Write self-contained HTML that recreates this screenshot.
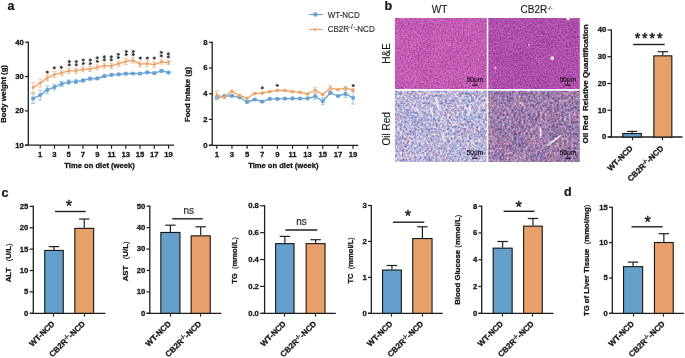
<!DOCTYPE html>
<html><head><meta charset="utf-8"><style>
html,body{margin:0;padding:0;background:#fff;width:685px;height:358px;overflow:hidden;}
svg{display:block;will-change:transform;}
text{font-family:"Liberation Sans",sans-serif;}
</style></head><body>
<svg width="685" height="358" viewBox="0 0 685 358">
<rect width="685" height="358" fill="#fff"/>
<text x="7.50" y="9.80" font-size="12.5" font-weight="bold" text-anchor="start" fill="#141414" stroke="#141414" stroke-width="0.2" >a</text>
<text x="384.60" y="9.60" font-size="12.5" font-weight="bold" text-anchor="start" fill="#141414" stroke="#141414" stroke-width="0.2" >b</text>
<text x="1.60" y="196.50" font-size="12.5" font-weight="bold" text-anchor="start" fill="#141414" stroke="#141414" stroke-width="0.2" >c</text>
<text x="563.90" y="196.40" font-size="12.5" font-weight="bold" text-anchor="start" fill="#141414" stroke="#141414" stroke-width="0.2" >d</text>
<line x1="28.30" y1="41.60" x2="28.30" y2="145.20" stroke="#1e1e1e" stroke-width="1.3" />
<line x1="25.00" y1="42.20" x2="28.30" y2="42.20" stroke="#1e1e1e" stroke-width="1.2" />
<text x="23.70" y="44.65" font-size="7.7" font-weight="bold" text-anchor="end" fill="#141414" stroke="#141414" stroke-width="0.28" >40</text>
<line x1="25.00" y1="76.53" x2="28.30" y2="76.53" stroke="#1e1e1e" stroke-width="1.2" />
<text x="23.70" y="78.98" font-size="7.7" font-weight="bold" text-anchor="end" fill="#141414" stroke="#141414" stroke-width="0.28" >30</text>
<line x1="25.00" y1="110.87" x2="28.30" y2="110.87" stroke="#1e1e1e" stroke-width="1.2" />
<text x="23.70" y="113.32" font-size="7.7" font-weight="bold" text-anchor="end" fill="#141414" stroke="#141414" stroke-width="0.28" >20</text>
<line x1="25.00" y1="145.20" x2="28.30" y2="145.20" stroke="#1e1e1e" stroke-width="1.2" />
<text x="23.70" y="147.65" font-size="7.7" font-weight="bold" text-anchor="end" fill="#141414" stroke="#141414" stroke-width="0.28" >10</text>
<line x1="25.00" y1="145.20" x2="174.00" y2="145.20" stroke="#1e1e1e" stroke-width="1.3" />
<line x1="40.23" y1="145.20" x2="40.23" y2="148.70" stroke="#1e1e1e" stroke-width="1.2" />
<text x="40.23" y="157.30" font-size="7.7" font-weight="bold" text-anchor="middle" fill="#141414" stroke="#141414" stroke-width="0.28" >1</text>
<line x1="54.49" y1="145.20" x2="54.49" y2="148.70" stroke="#1e1e1e" stroke-width="1.2" />
<text x="54.49" y="157.30" font-size="7.7" font-weight="bold" text-anchor="middle" fill="#141414" stroke="#141414" stroke-width="0.28" >3</text>
<line x1="68.75" y1="145.20" x2="68.75" y2="148.70" stroke="#1e1e1e" stroke-width="1.2" />
<text x="68.75" y="157.30" font-size="7.7" font-weight="bold" text-anchor="middle" fill="#141414" stroke="#141414" stroke-width="0.28" >5</text>
<line x1="83.01" y1="145.20" x2="83.01" y2="148.70" stroke="#1e1e1e" stroke-width="1.2" />
<text x="83.01" y="157.30" font-size="7.7" font-weight="bold" text-anchor="middle" fill="#141414" stroke="#141414" stroke-width="0.28" >7</text>
<line x1="97.27" y1="145.20" x2="97.27" y2="148.70" stroke="#1e1e1e" stroke-width="1.2" />
<text x="97.27" y="157.30" font-size="7.7" font-weight="bold" text-anchor="middle" fill="#141414" stroke="#141414" stroke-width="0.28" >9</text>
<line x1="111.53" y1="145.20" x2="111.53" y2="148.70" stroke="#1e1e1e" stroke-width="1.2" />
<text x="111.53" y="157.30" font-size="7.7" font-weight="bold" text-anchor="middle" fill="#141414" stroke="#141414" stroke-width="0.28" >11</text>
<line x1="125.79" y1="145.20" x2="125.79" y2="148.70" stroke="#1e1e1e" stroke-width="1.2" />
<text x="125.79" y="157.30" font-size="7.7" font-weight="bold" text-anchor="middle" fill="#141414" stroke="#141414" stroke-width="0.28" >13</text>
<line x1="140.05" y1="145.20" x2="140.05" y2="148.70" stroke="#1e1e1e" stroke-width="1.2" />
<text x="140.05" y="157.30" font-size="7.7" font-weight="bold" text-anchor="middle" fill="#141414" stroke="#141414" stroke-width="0.28" >15</text>
<line x1="154.31" y1="145.20" x2="154.31" y2="148.70" stroke="#1e1e1e" stroke-width="1.2" />
<text x="154.31" y="157.30" font-size="7.7" font-weight="bold" text-anchor="middle" fill="#141414" stroke="#141414" stroke-width="0.28" >17</text>
<line x1="168.57" y1="145.20" x2="168.57" y2="148.70" stroke="#1e1e1e" stroke-width="1.2" />
<text x="168.57" y="157.30" font-size="7.7" font-weight="bold" text-anchor="middle" fill="#141414" stroke="#141414" stroke-width="0.28" >19</text>
<text x="99.50" y="168.20" font-size="7.6" font-weight="bold" text-anchor="middle" fill="#141414" stroke="#141414" stroke-width="0.28" >Time on diet (week)</text>
<text transform="translate(6.00,93.90) rotate(-90)" font-size="7.7" font-weight="bold" text-anchor="middle" fill="#141414" stroke="#141414" stroke-width="0.28">Body weight (g)</text>
<line x1="33.10" y1="93.60" x2="33.10" y2="103.40" stroke="#8fbbe0" stroke-width="0.8" />
<line x1="30.90" y1="93.60" x2="35.30" y2="93.60" stroke="#8fbbe0" stroke-width="0.8" />
<line x1="30.90" y1="103.40" x2="35.30" y2="103.40" stroke="#8fbbe0" stroke-width="0.8" />
<line x1="40.23" y1="90.25" x2="40.23" y2="99.95" stroke="#8fbbe0" stroke-width="0.8" />
<line x1="38.03" y1="90.25" x2="42.43" y2="90.25" stroke="#8fbbe0" stroke-width="0.8" />
<line x1="38.03" y1="99.95" x2="42.43" y2="99.95" stroke="#8fbbe0" stroke-width="0.8" />
<line x1="47.36" y1="86.05" x2="47.36" y2="93.75" stroke="#8fbbe0" stroke-width="0.8" />
<line x1="45.16" y1="86.05" x2="49.56" y2="86.05" stroke="#8fbbe0" stroke-width="0.8" />
<line x1="45.16" y1="93.75" x2="49.56" y2="93.75" stroke="#8fbbe0" stroke-width="0.8" />
<line x1="54.49" y1="84.30" x2="54.49" y2="89.90" stroke="#8fbbe0" stroke-width="0.8" />
<line x1="52.29" y1="84.30" x2="56.69" y2="84.30" stroke="#8fbbe0" stroke-width="0.8" />
<line x1="52.29" y1="89.90" x2="56.69" y2="89.90" stroke="#8fbbe0" stroke-width="0.8" />
<line x1="61.62" y1="81.40" x2="61.62" y2="86.60" stroke="#8fbbe0" stroke-width="0.8" />
<line x1="59.42" y1="81.40" x2="63.82" y2="81.40" stroke="#8fbbe0" stroke-width="0.8" />
<line x1="59.42" y1="86.60" x2="63.82" y2="86.60" stroke="#8fbbe0" stroke-width="0.8" />
<line x1="68.75" y1="79.90" x2="68.75" y2="84.30" stroke="#8fbbe0" stroke-width="0.8" />
<line x1="66.55" y1="79.90" x2="70.95" y2="79.90" stroke="#8fbbe0" stroke-width="0.8" />
<line x1="66.55" y1="84.30" x2="70.95" y2="84.30" stroke="#8fbbe0" stroke-width="0.8" />
<line x1="75.88" y1="79.80" x2="75.88" y2="83.40" stroke="#8fbbe0" stroke-width="0.8" />
<line x1="73.68" y1="79.80" x2="78.08" y2="79.80" stroke="#8fbbe0" stroke-width="0.8" />
<line x1="73.68" y1="83.40" x2="78.08" y2="83.40" stroke="#8fbbe0" stroke-width="0.8" />
<line x1="83.01" y1="78.90" x2="83.01" y2="82.10" stroke="#8fbbe0" stroke-width="0.8" />
<line x1="80.81" y1="78.90" x2="85.21" y2="78.90" stroke="#8fbbe0" stroke-width="0.8" />
<line x1="80.81" y1="82.10" x2="85.21" y2="82.10" stroke="#8fbbe0" stroke-width="0.8" />
<line x1="90.14" y1="77.30" x2="90.14" y2="80.10" stroke="#8fbbe0" stroke-width="0.8" />
<line x1="87.94" y1="77.30" x2="92.34" y2="77.30" stroke="#8fbbe0" stroke-width="0.8" />
<line x1="87.94" y1="80.10" x2="92.34" y2="80.10" stroke="#8fbbe0" stroke-width="0.8" />
<line x1="97.27" y1="77.30" x2="97.27" y2="79.70" stroke="#8fbbe0" stroke-width="0.8" />
<line x1="95.07" y1="77.30" x2="99.47" y2="77.30" stroke="#8fbbe0" stroke-width="0.8" />
<line x1="95.07" y1="79.70" x2="99.47" y2="79.70" stroke="#8fbbe0" stroke-width="0.8" />
<line x1="104.40" y1="75.00" x2="104.40" y2="77.40" stroke="#8fbbe0" stroke-width="0.8" />
<line x1="102.20" y1="75.00" x2="106.60" y2="75.00" stroke="#8fbbe0" stroke-width="0.8" />
<line x1="102.20" y1="77.40" x2="106.60" y2="77.40" stroke="#8fbbe0" stroke-width="0.8" />
<line x1="111.53" y1="73.90" x2="111.53" y2="75.90" stroke="#8fbbe0" stroke-width="0.8" />
<line x1="109.33" y1="73.90" x2="113.73" y2="73.90" stroke="#8fbbe0" stroke-width="0.8" />
<line x1="109.33" y1="75.90" x2="113.73" y2="75.90" stroke="#8fbbe0" stroke-width="0.8" />
<line x1="118.66" y1="73.40" x2="118.66" y2="75.40" stroke="#8fbbe0" stroke-width="0.8" />
<line x1="116.46" y1="73.40" x2="120.86" y2="73.40" stroke="#8fbbe0" stroke-width="0.8" />
<line x1="116.46" y1="75.40" x2="120.86" y2="75.40" stroke="#8fbbe0" stroke-width="0.8" />
<line x1="125.79" y1="72.70" x2="125.79" y2="74.70" stroke="#8fbbe0" stroke-width="0.8" />
<line x1="123.59" y1="72.70" x2="127.99" y2="72.70" stroke="#8fbbe0" stroke-width="0.8" />
<line x1="123.59" y1="74.70" x2="127.99" y2="74.70" stroke="#8fbbe0" stroke-width="0.8" />
<line x1="132.92" y1="72.50" x2="132.92" y2="74.50" stroke="#8fbbe0" stroke-width="0.8" />
<line x1="130.72" y1="72.50" x2="135.12" y2="72.50" stroke="#8fbbe0" stroke-width="0.8" />
<line x1="130.72" y1="74.50" x2="135.12" y2="74.50" stroke="#8fbbe0" stroke-width="0.8" />
<line x1="140.05" y1="72.60" x2="140.05" y2="74.60" stroke="#8fbbe0" stroke-width="0.8" />
<line x1="137.85" y1="72.60" x2="142.25" y2="72.60" stroke="#8fbbe0" stroke-width="0.8" />
<line x1="137.85" y1="74.60" x2="142.25" y2="74.60" stroke="#8fbbe0" stroke-width="0.8" />
<line x1="147.18" y1="71.40" x2="147.18" y2="73.40" stroke="#8fbbe0" stroke-width="0.8" />
<line x1="144.98" y1="71.40" x2="149.38" y2="71.40" stroke="#8fbbe0" stroke-width="0.8" />
<line x1="144.98" y1="73.40" x2="149.38" y2="73.40" stroke="#8fbbe0" stroke-width="0.8" />
<line x1="154.31" y1="72.10" x2="154.31" y2="74.10" stroke="#8fbbe0" stroke-width="0.8" />
<line x1="152.11" y1="72.10" x2="156.51" y2="72.10" stroke="#8fbbe0" stroke-width="0.8" />
<line x1="152.11" y1="74.10" x2="156.51" y2="74.10" stroke="#8fbbe0" stroke-width="0.8" />
<line x1="161.44" y1="69.70" x2="161.44" y2="72.10" stroke="#8fbbe0" stroke-width="0.8" />
<line x1="159.24" y1="69.70" x2="163.64" y2="69.70" stroke="#8fbbe0" stroke-width="0.8" />
<line x1="159.24" y1="72.10" x2="163.64" y2="72.10" stroke="#8fbbe0" stroke-width="0.8" />
<line x1="168.57" y1="71.60" x2="168.57" y2="73.60" stroke="#8fbbe0" stroke-width="0.8" />
<line x1="166.37" y1="71.60" x2="170.77" y2="71.60" stroke="#8fbbe0" stroke-width="0.8" />
<line x1="166.37" y1="73.60" x2="170.77" y2="73.60" stroke="#8fbbe0" stroke-width="0.8" />
<polyline points="33.10,98.50 40.23,95.10 47.36,89.90 54.49,87.10 61.62,84.00 68.75,82.10 75.88,81.60 83.01,80.50 90.14,78.70 97.27,78.50 104.40,76.20 111.53,74.90 118.66,74.40 125.79,73.70 132.92,73.50 140.05,73.60 147.18,72.40 154.31,73.10 161.44,70.90 168.57,72.60" fill="none" stroke="#68a2d4" stroke-width="1.35" stroke-linejoin="round"/>
<circle cx="33.10" cy="98.50" r="2.1" fill="#68a2d4"/>
<circle cx="40.23" cy="95.10" r="2.1" fill="#68a2d4"/>
<circle cx="47.36" cy="89.90" r="2.1" fill="#68a2d4"/>
<circle cx="54.49" cy="87.10" r="2.1" fill="#68a2d4"/>
<circle cx="61.62" cy="84.00" r="2.1" fill="#68a2d4"/>
<circle cx="68.75" cy="82.10" r="2.1" fill="#68a2d4"/>
<circle cx="75.88" cy="81.60" r="2.1" fill="#68a2d4"/>
<circle cx="83.01" cy="80.50" r="2.1" fill="#68a2d4"/>
<circle cx="90.14" cy="78.70" r="2.1" fill="#68a2d4"/>
<circle cx="97.27" cy="78.50" r="2.1" fill="#68a2d4"/>
<circle cx="104.40" cy="76.20" r="2.1" fill="#68a2d4"/>
<circle cx="111.53" cy="74.90" r="2.1" fill="#68a2d4"/>
<circle cx="118.66" cy="74.40" r="2.1" fill="#68a2d4"/>
<circle cx="125.79" cy="73.70" r="2.1" fill="#68a2d4"/>
<circle cx="132.92" cy="73.50" r="2.1" fill="#68a2d4"/>
<circle cx="140.05" cy="73.60" r="2.1" fill="#68a2d4"/>
<circle cx="147.18" cy="72.40" r="2.1" fill="#68a2d4"/>
<circle cx="154.31" cy="73.10" r="2.1" fill="#68a2d4"/>
<circle cx="161.44" cy="70.90" r="2.1" fill="#68a2d4"/>
<circle cx="168.57" cy="72.60" r="2.1" fill="#68a2d4"/>
<line x1="33.10" y1="82.50" x2="33.10" y2="92.30" stroke="#f0bb8c" stroke-width="0.8" />
<line x1="30.90" y1="82.50" x2="35.30" y2="82.50" stroke="#f0bb8c" stroke-width="0.8" />
<line x1="30.90" y1="92.30" x2="35.30" y2="92.30" stroke="#f0bb8c" stroke-width="0.8" />
<line x1="40.23" y1="79.00" x2="40.23" y2="87.00" stroke="#f0bb8c" stroke-width="0.8" />
<line x1="38.03" y1="79.00" x2="42.43" y2="79.00" stroke="#f0bb8c" stroke-width="0.8" />
<line x1="38.03" y1="87.00" x2="42.43" y2="87.00" stroke="#f0bb8c" stroke-width="0.8" />
<line x1="47.36" y1="74.90" x2="47.36" y2="80.90" stroke="#f0bb8c" stroke-width="0.8" />
<line x1="45.16" y1="74.90" x2="49.56" y2="74.90" stroke="#f0bb8c" stroke-width="0.8" />
<line x1="45.16" y1="80.90" x2="49.56" y2="80.90" stroke="#f0bb8c" stroke-width="0.8" />
<line x1="54.49" y1="71.60" x2="54.49" y2="77.60" stroke="#f0bb8c" stroke-width="0.8" />
<line x1="52.29" y1="71.60" x2="56.69" y2="71.60" stroke="#f0bb8c" stroke-width="0.8" />
<line x1="52.29" y1="77.60" x2="56.69" y2="77.60" stroke="#f0bb8c" stroke-width="0.8" />
<line x1="61.62" y1="70.40" x2="61.62" y2="75.40" stroke="#f0bb8c" stroke-width="0.8" />
<line x1="59.42" y1="70.40" x2="63.82" y2="70.40" stroke="#f0bb8c" stroke-width="0.8" />
<line x1="59.42" y1="75.40" x2="63.82" y2="75.40" stroke="#f0bb8c" stroke-width="0.8" />
<line x1="68.75" y1="68.30" x2="68.75" y2="73.30" stroke="#f0bb8c" stroke-width="0.8" />
<line x1="66.55" y1="68.30" x2="70.95" y2="68.30" stroke="#f0bb8c" stroke-width="0.8" />
<line x1="66.55" y1="73.30" x2="70.95" y2="73.30" stroke="#f0bb8c" stroke-width="0.8" />
<line x1="75.88" y1="68.30" x2="75.88" y2="73.30" stroke="#f0bb8c" stroke-width="0.8" />
<line x1="73.68" y1="68.30" x2="78.08" y2="68.30" stroke="#f0bb8c" stroke-width="0.8" />
<line x1="73.68" y1="73.30" x2="78.08" y2="73.30" stroke="#f0bb8c" stroke-width="0.8" />
<line x1="83.01" y1="66.80" x2="83.01" y2="71.80" stroke="#f0bb8c" stroke-width="0.8" />
<line x1="80.81" y1="66.80" x2="85.21" y2="66.80" stroke="#f0bb8c" stroke-width="0.8" />
<line x1="80.81" y1="71.80" x2="85.21" y2="71.80" stroke="#f0bb8c" stroke-width="0.8" />
<line x1="90.14" y1="66.50" x2="90.14" y2="71.50" stroke="#f0bb8c" stroke-width="0.8" />
<line x1="87.94" y1="66.50" x2="92.34" y2="66.50" stroke="#f0bb8c" stroke-width="0.8" />
<line x1="87.94" y1="71.50" x2="92.34" y2="71.50" stroke="#f0bb8c" stroke-width="0.8" />
<line x1="97.27" y1="64.80" x2="97.27" y2="69.80" stroke="#f0bb8c" stroke-width="0.8" />
<line x1="95.07" y1="64.80" x2="99.47" y2="64.80" stroke="#f0bb8c" stroke-width="0.8" />
<line x1="95.07" y1="69.80" x2="99.47" y2="69.80" stroke="#f0bb8c" stroke-width="0.8" />
<line x1="104.40" y1="63.20" x2="104.40" y2="68.00" stroke="#f0bb8c" stroke-width="0.8" />
<line x1="102.20" y1="63.20" x2="106.60" y2="63.20" stroke="#f0bb8c" stroke-width="0.8" />
<line x1="102.20" y1="68.00" x2="106.60" y2="68.00" stroke="#f0bb8c" stroke-width="0.8" />
<line x1="111.53" y1="63.30" x2="111.53" y2="68.50" stroke="#f0bb8c" stroke-width="0.8" />
<line x1="109.33" y1="63.30" x2="113.73" y2="63.30" stroke="#f0bb8c" stroke-width="0.8" />
<line x1="109.33" y1="68.50" x2="113.73" y2="68.50" stroke="#f0bb8c" stroke-width="0.8" />
<line x1="118.66" y1="61.10" x2="118.66" y2="66.30" stroke="#f0bb8c" stroke-width="0.8" />
<line x1="116.46" y1="61.10" x2="120.86" y2="61.10" stroke="#f0bb8c" stroke-width="0.8" />
<line x1="116.46" y1="66.30" x2="120.86" y2="66.30" stroke="#f0bb8c" stroke-width="0.8" />
<line x1="125.79" y1="58.50" x2="125.79" y2="64.50" stroke="#f0bb8c" stroke-width="0.8" />
<line x1="123.59" y1="58.50" x2="127.99" y2="58.50" stroke="#f0bb8c" stroke-width="0.8" />
<line x1="123.59" y1="64.50" x2="127.99" y2="64.50" stroke="#f0bb8c" stroke-width="0.8" />
<line x1="132.92" y1="57.50" x2="132.92" y2="63.10" stroke="#f0bb8c" stroke-width="0.8" />
<line x1="130.72" y1="57.50" x2="135.12" y2="57.50" stroke="#f0bb8c" stroke-width="0.8" />
<line x1="130.72" y1="63.10" x2="135.12" y2="63.10" stroke="#f0bb8c" stroke-width="0.8" />
<line x1="140.05" y1="61.30" x2="140.05" y2="66.90" stroke="#f0bb8c" stroke-width="0.8" />
<line x1="137.85" y1="61.30" x2="142.25" y2="61.30" stroke="#f0bb8c" stroke-width="0.8" />
<line x1="137.85" y1="66.90" x2="142.25" y2="66.90" stroke="#f0bb8c" stroke-width="0.8" />
<line x1="147.18" y1="60.90" x2="147.18" y2="66.30" stroke="#f0bb8c" stroke-width="0.8" />
<line x1="144.98" y1="60.90" x2="149.38" y2="60.90" stroke="#f0bb8c" stroke-width="0.8" />
<line x1="144.98" y1="66.30" x2="149.38" y2="66.30" stroke="#f0bb8c" stroke-width="0.8" />
<line x1="154.31" y1="61.80" x2="154.31" y2="67.40" stroke="#f0bb8c" stroke-width="0.8" />
<line x1="152.11" y1="61.80" x2="156.51" y2="61.80" stroke="#f0bb8c" stroke-width="0.8" />
<line x1="152.11" y1="67.40" x2="156.51" y2="67.40" stroke="#f0bb8c" stroke-width="0.8" />
<line x1="161.44" y1="59.40" x2="161.44" y2="64.20" stroke="#f0bb8c" stroke-width="0.8" />
<line x1="159.24" y1="59.40" x2="163.64" y2="59.40" stroke="#f0bb8c" stroke-width="0.8" />
<line x1="159.24" y1="64.20" x2="163.64" y2="64.20" stroke="#f0bb8c" stroke-width="0.8" />
<line x1="168.57" y1="60.50" x2="168.57" y2="64.70" stroke="#f0bb8c" stroke-width="0.8" />
<line x1="166.37" y1="60.50" x2="170.77" y2="60.50" stroke="#f0bb8c" stroke-width="0.8" />
<line x1="166.37" y1="64.70" x2="170.77" y2="64.70" stroke="#f0bb8c" stroke-width="0.8" />
<polyline points="33.10,87.40 40.23,83.00 47.36,77.90 54.49,74.60 61.62,72.90 68.75,70.80 75.88,70.80 83.01,69.30 90.14,69.00 97.27,67.30 104.40,65.60 111.53,65.90 118.66,63.70 125.79,61.50 132.92,60.30 140.05,64.10 147.18,63.60 154.31,64.60 161.44,61.80 168.57,62.60" fill="none" stroke="#eba265" stroke-width="1.35" stroke-linejoin="round"/>
<path d="M33.10 85.30 L34.80 87.40 L33.10 89.50 L31.40 87.40Z" fill="#eba265"/>
<path d="M40.23 80.90 L41.93 83.00 L40.23 85.10 L38.53 83.00Z" fill="#eba265"/>
<path d="M47.36 75.80 L49.06 77.90 L47.36 80.00 L45.66 77.90Z" fill="#eba265"/>
<path d="M54.49 72.50 L56.19 74.60 L54.49 76.70 L52.79 74.60Z" fill="#eba265"/>
<path d="M61.62 70.80 L63.32 72.90 L61.62 75.00 L59.92 72.90Z" fill="#eba265"/>
<path d="M68.75 68.70 L70.45 70.80 L68.75 72.90 L67.05 70.80Z" fill="#eba265"/>
<path d="M75.88 68.70 L77.58 70.80 L75.88 72.90 L74.18 70.80Z" fill="#eba265"/>
<path d="M83.01 67.20 L84.71 69.30 L83.01 71.40 L81.31 69.30Z" fill="#eba265"/>
<path d="M90.14 66.90 L91.84 69.00 L90.14 71.10 L88.44 69.00Z" fill="#eba265"/>
<path d="M97.27 65.20 L98.97 67.30 L97.27 69.40 L95.57 67.30Z" fill="#eba265"/>
<path d="M104.40 63.50 L106.10 65.60 L104.40 67.70 L102.70 65.60Z" fill="#eba265"/>
<path d="M111.53 63.80 L113.23 65.90 L111.53 68.00 L109.83 65.90Z" fill="#eba265"/>
<path d="M118.66 61.60 L120.36 63.70 L118.66 65.80 L116.96 63.70Z" fill="#eba265"/>
<path d="M125.79 59.40 L127.49 61.50 L125.79 63.60 L124.09 61.50Z" fill="#eba265"/>
<path d="M132.92 58.20 L134.62 60.30 L132.92 62.40 L131.22 60.30Z" fill="#eba265"/>
<path d="M140.05 62.00 L141.75 64.10 L140.05 66.20 L138.35 64.10Z" fill="#eba265"/>
<path d="M147.18 61.50 L148.88 63.60 L147.18 65.70 L145.48 63.60Z" fill="#eba265"/>
<path d="M154.31 62.50 L156.01 64.60 L154.31 66.70 L152.61 64.60Z" fill="#eba265"/>
<path d="M161.44 59.70 L163.14 61.80 L161.44 63.90 L159.74 61.80Z" fill="#eba265"/>
<path d="M168.57 60.50 L170.27 62.60 L168.57 64.70 L166.87 62.60Z" fill="#eba265"/>
<text transform="translate(47.36,72.20) rotate(90)" y="4.24" font-size="8.2" text-anchor="middle" fill="#141414" stroke="#141414" stroke-width="0.2">*</text>
<text transform="translate(54.49,67.90) rotate(90)" y="4.24" font-size="8.2" text-anchor="middle" fill="#141414" stroke="#141414" stroke-width="0.2">*</text>
<text transform="translate(61.62,67.40) rotate(90)" y="4.24" font-size="8.2" text-anchor="middle" fill="#141414" stroke="#141414" stroke-width="0.2">*</text>
<text transform="translate(68.75,61.60) rotate(90)" y="4.24" font-size="8.2" text-anchor="middle" fill="#141414" stroke="#141414" stroke-width="0.2">*</text>
<text transform="translate(68.75,64.80) rotate(90)" y="4.24" font-size="8.2" text-anchor="middle" fill="#141414" stroke="#141414" stroke-width="0.2">*</text>
<text transform="translate(75.88,61.60) rotate(90)" y="4.24" font-size="8.2" text-anchor="middle" fill="#141414" stroke="#141414" stroke-width="0.2">*</text>
<text transform="translate(75.88,64.80) rotate(90)" y="4.24" font-size="8.2" text-anchor="middle" fill="#141414" stroke="#141414" stroke-width="0.2">*</text>
<text transform="translate(83.01,60.20) rotate(90)" y="4.24" font-size="8.2" text-anchor="middle" fill="#141414" stroke="#141414" stroke-width="0.2">*</text>
<text transform="translate(83.01,63.60) rotate(90)" y="4.24" font-size="8.2" text-anchor="middle" fill="#141414" stroke="#141414" stroke-width="0.2">*</text>
<text transform="translate(90.14,60.20) rotate(90)" y="4.24" font-size="8.2" text-anchor="middle" fill="#141414" stroke="#141414" stroke-width="0.2">*</text>
<text transform="translate(90.14,63.60) rotate(90)" y="4.24" font-size="8.2" text-anchor="middle" fill="#141414" stroke="#141414" stroke-width="0.2">*</text>
<text transform="translate(97.27,57.90) rotate(90)" y="4.24" font-size="8.2" text-anchor="middle" fill="#141414" stroke="#141414" stroke-width="0.2">*</text>
<text transform="translate(97.27,61.40) rotate(90)" y="4.24" font-size="8.2" text-anchor="middle" fill="#141414" stroke="#141414" stroke-width="0.2">*</text>
<text transform="translate(104.40,56.80) rotate(90)" y="4.24" font-size="8.2" text-anchor="middle" fill="#141414" stroke="#141414" stroke-width="0.2">*</text>
<text transform="translate(104.40,59.80) rotate(90)" y="4.24" font-size="8.2" text-anchor="middle" fill="#141414" stroke="#141414" stroke-width="0.2">*</text>
<text transform="translate(111.53,56.80) rotate(90)" y="4.24" font-size="8.2" text-anchor="middle" fill="#141414" stroke="#141414" stroke-width="0.2">*</text>
<text transform="translate(111.53,59.80) rotate(90)" y="4.24" font-size="8.2" text-anchor="middle" fill="#141414" stroke="#141414" stroke-width="0.2">*</text>
<text transform="translate(118.66,54.40) rotate(90)" y="4.24" font-size="8.2" text-anchor="middle" fill="#141414" stroke="#141414" stroke-width="0.2">*</text>
<text transform="translate(118.66,57.60) rotate(90)" y="4.24" font-size="8.2" text-anchor="middle" fill="#141414" stroke="#141414" stroke-width="0.2">*</text>
<text transform="translate(125.79,51.50) rotate(90)" y="4.24" font-size="8.2" text-anchor="middle" fill="#141414" stroke="#141414" stroke-width="0.2">*</text>
<text transform="translate(125.79,54.70) rotate(90)" y="4.24" font-size="8.2" text-anchor="middle" fill="#141414" stroke="#141414" stroke-width="0.2">*</text>
<text transform="translate(132.92,51.50) rotate(90)" y="4.24" font-size="8.2" text-anchor="middle" fill="#141414" stroke="#141414" stroke-width="0.2">*</text>
<text transform="translate(132.92,54.70) rotate(90)" y="4.24" font-size="8.2" text-anchor="middle" fill="#141414" stroke="#141414" stroke-width="0.2">*</text>
<text transform="translate(140.05,58.20) rotate(90)" y="4.24" font-size="8.2" text-anchor="middle" fill="#141414" stroke="#141414" stroke-width="0.2">*</text>
<text transform="translate(147.18,58.20) rotate(90)" y="4.24" font-size="8.2" text-anchor="middle" fill="#141414" stroke="#141414" stroke-width="0.2">*</text>
<text transform="translate(154.31,58.20) rotate(90)" y="4.24" font-size="8.2" text-anchor="middle" fill="#141414" stroke="#141414" stroke-width="0.2">*</text>
<text transform="translate(161.44,52.30) rotate(90)" y="4.24" font-size="8.2" text-anchor="middle" fill="#141414" stroke="#141414" stroke-width="0.2">*</text>
<text transform="translate(161.44,55.80) rotate(90)" y="4.24" font-size="8.2" text-anchor="middle" fill="#141414" stroke="#141414" stroke-width="0.2">*</text>
<text transform="translate(168.57,53.80) rotate(90)" y="4.24" font-size="8.2" text-anchor="middle" fill="#141414" stroke="#141414" stroke-width="0.2">*</text>
<text transform="translate(168.57,56.90) rotate(90)" y="4.24" font-size="8.2" text-anchor="middle" fill="#141414" stroke="#141414" stroke-width="0.2">*</text>
<line x1="212.20" y1="41.70" x2="212.20" y2="145.20" stroke="#1e1e1e" stroke-width="1.3" />
<line x1="208.90" y1="42.30" x2="212.20" y2="42.30" stroke="#1e1e1e" stroke-width="1.2" />
<text x="207.60" y="44.75" font-size="7.7" font-weight="bold" text-anchor="end" fill="#141414" stroke="#141414" stroke-width="0.28" >8</text>
<line x1="208.90" y1="68.02" x2="212.20" y2="68.02" stroke="#1e1e1e" stroke-width="1.2" />
<text x="207.60" y="70.47" font-size="7.7" font-weight="bold" text-anchor="end" fill="#141414" stroke="#141414" stroke-width="0.28" >6</text>
<line x1="208.90" y1="93.75" x2="212.20" y2="93.75" stroke="#1e1e1e" stroke-width="1.2" />
<text x="207.60" y="96.20" font-size="7.7" font-weight="bold" text-anchor="end" fill="#141414" stroke="#141414" stroke-width="0.28" >4</text>
<line x1="208.90" y1="119.47" x2="212.20" y2="119.47" stroke="#1e1e1e" stroke-width="1.2" />
<text x="207.60" y="121.92" font-size="7.7" font-weight="bold" text-anchor="end" fill="#141414" stroke="#141414" stroke-width="0.28" >2</text>
<line x1="208.90" y1="145.20" x2="212.20" y2="145.20" stroke="#1e1e1e" stroke-width="1.2" />
<text x="207.60" y="147.65" font-size="7.7" font-weight="bold" text-anchor="end" fill="#141414" stroke="#141414" stroke-width="0.28" >0</text>
<line x1="208.90" y1="145.30" x2="358.30" y2="145.30" stroke="#1e1e1e" stroke-width="1.3" />
<line x1="216.80" y1="145.30" x2="216.80" y2="148.80" stroke="#1e1e1e" stroke-width="1.2" />
<text x="216.80" y="157.40" font-size="7.7" font-weight="bold" text-anchor="middle" fill="#141414" stroke="#141414" stroke-width="0.28" >1</text>
<line x1="231.94" y1="145.30" x2="231.94" y2="148.80" stroke="#1e1e1e" stroke-width="1.2" />
<text x="231.94" y="157.40" font-size="7.7" font-weight="bold" text-anchor="middle" fill="#141414" stroke="#141414" stroke-width="0.28" >3</text>
<line x1="247.08" y1="145.30" x2="247.08" y2="148.80" stroke="#1e1e1e" stroke-width="1.2" />
<text x="247.08" y="157.40" font-size="7.7" font-weight="bold" text-anchor="middle" fill="#141414" stroke="#141414" stroke-width="0.28" >5</text>
<line x1="262.22" y1="145.30" x2="262.22" y2="148.80" stroke="#1e1e1e" stroke-width="1.2" />
<text x="262.22" y="157.40" font-size="7.7" font-weight="bold" text-anchor="middle" fill="#141414" stroke="#141414" stroke-width="0.28" >7</text>
<line x1="277.36" y1="145.30" x2="277.36" y2="148.80" stroke="#1e1e1e" stroke-width="1.2" />
<text x="277.36" y="157.40" font-size="7.7" font-weight="bold" text-anchor="middle" fill="#141414" stroke="#141414" stroke-width="0.28" >9</text>
<line x1="292.50" y1="145.30" x2="292.50" y2="148.80" stroke="#1e1e1e" stroke-width="1.2" />
<text x="292.50" y="157.40" font-size="7.7" font-weight="bold" text-anchor="middle" fill="#141414" stroke="#141414" stroke-width="0.28" >11</text>
<line x1="307.64" y1="145.30" x2="307.64" y2="148.80" stroke="#1e1e1e" stroke-width="1.2" />
<text x="307.64" y="157.40" font-size="7.7" font-weight="bold" text-anchor="middle" fill="#141414" stroke="#141414" stroke-width="0.28" >13</text>
<line x1="322.78" y1="145.30" x2="322.78" y2="148.80" stroke="#1e1e1e" stroke-width="1.2" />
<text x="322.78" y="157.40" font-size="7.7" font-weight="bold" text-anchor="middle" fill="#141414" stroke="#141414" stroke-width="0.28" >15</text>
<line x1="337.92" y1="145.30" x2="337.92" y2="148.80" stroke="#1e1e1e" stroke-width="1.2" />
<text x="337.92" y="157.40" font-size="7.7" font-weight="bold" text-anchor="middle" fill="#141414" stroke="#141414" stroke-width="0.28" >17</text>
<line x1="353.06" y1="145.30" x2="353.06" y2="148.80" stroke="#1e1e1e" stroke-width="1.2" />
<text x="353.06" y="157.40" font-size="7.7" font-weight="bold" text-anchor="middle" fill="#141414" stroke="#141414" stroke-width="0.28" >19</text>
<text x="283.30" y="168.40" font-size="7.6" font-weight="bold" text-anchor="middle" fill="#141414" stroke="#141414" stroke-width="0.28" >Time on diet (week)</text>
<text transform="translate(190.40,94.50) rotate(-90)" font-size="7.7" font-weight="bold" text-anchor="middle" fill="#141414" stroke="#141414" stroke-width="0.28">Food Intake (g)</text>
<line x1="216.80" y1="96.20" x2="216.80" y2="99.40" stroke="#8fbbe0" stroke-width="0.8" />
<line x1="214.60" y1="96.20" x2="219.00" y2="96.20" stroke="#8fbbe0" stroke-width="0.8" />
<line x1="214.60" y1="99.40" x2="219.00" y2="99.40" stroke="#8fbbe0" stroke-width="0.8" />
<line x1="224.37" y1="95.30" x2="224.37" y2="96.90" stroke="#8fbbe0" stroke-width="0.8" />
<line x1="222.17" y1="95.30" x2="226.57" y2="95.30" stroke="#8fbbe0" stroke-width="0.8" />
<line x1="222.17" y1="96.90" x2="226.57" y2="96.90" stroke="#8fbbe0" stroke-width="0.8" />
<line x1="231.94" y1="95.10" x2="231.94" y2="96.70" stroke="#8fbbe0" stroke-width="0.8" />
<line x1="229.74" y1="95.10" x2="234.14" y2="95.10" stroke="#8fbbe0" stroke-width="0.8" />
<line x1="229.74" y1="96.70" x2="234.14" y2="96.70" stroke="#8fbbe0" stroke-width="0.8" />
<line x1="239.51" y1="96.40" x2="239.51" y2="98.00" stroke="#8fbbe0" stroke-width="0.8" />
<line x1="237.31" y1="96.40" x2="241.71" y2="96.40" stroke="#8fbbe0" stroke-width="0.8" />
<line x1="237.31" y1="98.00" x2="241.71" y2="98.00" stroke="#8fbbe0" stroke-width="0.8" />
<line x1="247.08" y1="101.20" x2="247.08" y2="102.80" stroke="#8fbbe0" stroke-width="0.8" />
<line x1="244.88" y1="101.20" x2="249.28" y2="101.20" stroke="#8fbbe0" stroke-width="0.8" />
<line x1="244.88" y1="102.80" x2="249.28" y2="102.80" stroke="#8fbbe0" stroke-width="0.8" />
<line x1="254.65" y1="98.70" x2="254.65" y2="100.30" stroke="#8fbbe0" stroke-width="0.8" />
<line x1="252.45" y1="98.70" x2="256.85" y2="98.70" stroke="#8fbbe0" stroke-width="0.8" />
<line x1="252.45" y1="100.30" x2="256.85" y2="100.30" stroke="#8fbbe0" stroke-width="0.8" />
<line x1="262.22" y1="100.80" x2="262.22" y2="102.40" stroke="#8fbbe0" stroke-width="0.8" />
<line x1="260.02" y1="100.80" x2="264.42" y2="100.80" stroke="#8fbbe0" stroke-width="0.8" />
<line x1="260.02" y1="102.40" x2="264.42" y2="102.40" stroke="#8fbbe0" stroke-width="0.8" />
<line x1="269.79" y1="98.10" x2="269.79" y2="99.70" stroke="#8fbbe0" stroke-width="0.8" />
<line x1="267.59" y1="98.10" x2="271.99" y2="98.10" stroke="#8fbbe0" stroke-width="0.8" />
<line x1="267.59" y1="99.70" x2="271.99" y2="99.70" stroke="#8fbbe0" stroke-width="0.8" />
<line x1="277.36" y1="98.10" x2="277.36" y2="99.70" stroke="#8fbbe0" stroke-width="0.8" />
<line x1="275.16" y1="98.10" x2="279.56" y2="98.10" stroke="#8fbbe0" stroke-width="0.8" />
<line x1="275.16" y1="99.70" x2="279.56" y2="99.70" stroke="#8fbbe0" stroke-width="0.8" />
<line x1="284.93" y1="97.80" x2="284.93" y2="99.40" stroke="#8fbbe0" stroke-width="0.8" />
<line x1="282.73" y1="97.80" x2="287.13" y2="97.80" stroke="#8fbbe0" stroke-width="0.8" />
<line x1="282.73" y1="99.40" x2="287.13" y2="99.40" stroke="#8fbbe0" stroke-width="0.8" />
<line x1="292.50" y1="97.60" x2="292.50" y2="99.20" stroke="#8fbbe0" stroke-width="0.8" />
<line x1="290.30" y1="97.60" x2="294.70" y2="97.60" stroke="#8fbbe0" stroke-width="0.8" />
<line x1="290.30" y1="99.20" x2="294.70" y2="99.20" stroke="#8fbbe0" stroke-width="0.8" />
<line x1="300.07" y1="97.80" x2="300.07" y2="99.40" stroke="#8fbbe0" stroke-width="0.8" />
<line x1="297.87" y1="97.80" x2="302.27" y2="97.80" stroke="#8fbbe0" stroke-width="0.8" />
<line x1="297.87" y1="99.40" x2="302.27" y2="99.40" stroke="#8fbbe0" stroke-width="0.8" />
<line x1="307.64" y1="97.60" x2="307.64" y2="99.20" stroke="#8fbbe0" stroke-width="0.8" />
<line x1="305.44" y1="97.60" x2="309.84" y2="97.60" stroke="#8fbbe0" stroke-width="0.8" />
<line x1="305.44" y1="99.20" x2="309.84" y2="99.20" stroke="#8fbbe0" stroke-width="0.8" />
<line x1="315.21" y1="93.30" x2="315.21" y2="99.30" stroke="#8fbbe0" stroke-width="0.8" />
<line x1="313.01" y1="93.30" x2="317.41" y2="93.30" stroke="#8fbbe0" stroke-width="0.8" />
<line x1="313.01" y1="99.30" x2="317.41" y2="99.30" stroke="#8fbbe0" stroke-width="0.8" />
<line x1="322.78" y1="97.90" x2="322.78" y2="104.70" stroke="#8fbbe0" stroke-width="0.8" />
<line x1="320.58" y1="97.90" x2="324.98" y2="97.90" stroke="#8fbbe0" stroke-width="0.8" />
<line x1="320.58" y1="104.70" x2="324.98" y2="104.70" stroke="#8fbbe0" stroke-width="0.8" />
<line x1="330.35" y1="91.80" x2="330.35" y2="93.80" stroke="#8fbbe0" stroke-width="0.8" />
<line x1="328.15" y1="91.80" x2="332.55" y2="91.80" stroke="#8fbbe0" stroke-width="0.8" />
<line x1="328.15" y1="93.80" x2="332.55" y2="93.80" stroke="#8fbbe0" stroke-width="0.8" />
<line x1="337.92" y1="95.20" x2="337.92" y2="96.80" stroke="#8fbbe0" stroke-width="0.8" />
<line x1="335.72" y1="95.20" x2="340.12" y2="95.20" stroke="#8fbbe0" stroke-width="0.8" />
<line x1="335.72" y1="96.80" x2="340.12" y2="96.80" stroke="#8fbbe0" stroke-width="0.8" />
<line x1="345.49" y1="90.40" x2="345.49" y2="97.40" stroke="#8fbbe0" stroke-width="0.8" />
<line x1="343.29" y1="90.40" x2="347.69" y2="90.40" stroke="#8fbbe0" stroke-width="0.8" />
<line x1="343.29" y1="97.40" x2="347.69" y2="97.40" stroke="#8fbbe0" stroke-width="0.8" />
<line x1="353.06" y1="91.60" x2="353.06" y2="104.00" stroke="#8fbbe0" stroke-width="0.8" />
<line x1="350.86" y1="91.60" x2="355.26" y2="91.60" stroke="#8fbbe0" stroke-width="0.8" />
<line x1="350.86" y1="104.00" x2="355.26" y2="104.00" stroke="#8fbbe0" stroke-width="0.8" />
<polyline points="216.80,97.80 224.37,96.10 231.94,95.90 239.51,97.20 247.08,102.00 254.65,99.50 262.22,101.60 269.79,98.90 277.36,98.90 284.93,98.60 292.50,98.40 300.07,98.60 307.64,98.40 315.21,96.30 322.78,101.30 330.35,92.80 337.92,96.00 345.49,93.90 353.06,97.80" fill="none" stroke="#68a2d4" stroke-width="1.35" stroke-linejoin="round"/>
<circle cx="216.80" cy="97.80" r="2.1" fill="#68a2d4"/>
<circle cx="224.37" cy="96.10" r="2.1" fill="#68a2d4"/>
<circle cx="231.94" cy="95.90" r="2.1" fill="#68a2d4"/>
<circle cx="239.51" cy="97.20" r="2.1" fill="#68a2d4"/>
<circle cx="247.08" cy="102.00" r="2.1" fill="#68a2d4"/>
<circle cx="254.65" cy="99.50" r="2.1" fill="#68a2d4"/>
<circle cx="262.22" cy="101.60" r="2.1" fill="#68a2d4"/>
<circle cx="269.79" cy="98.90" r="2.1" fill="#68a2d4"/>
<circle cx="277.36" cy="98.90" r="2.1" fill="#68a2d4"/>
<circle cx="284.93" cy="98.60" r="2.1" fill="#68a2d4"/>
<circle cx="292.50" cy="98.40" r="2.1" fill="#68a2d4"/>
<circle cx="300.07" cy="98.60" r="2.1" fill="#68a2d4"/>
<circle cx="307.64" cy="98.40" r="2.1" fill="#68a2d4"/>
<circle cx="315.21" cy="96.30" r="2.1" fill="#68a2d4"/>
<circle cx="322.78" cy="101.30" r="2.1" fill="#68a2d4"/>
<circle cx="330.35" cy="92.80" r="2.1" fill="#68a2d4"/>
<circle cx="337.92" cy="96.00" r="2.1" fill="#68a2d4"/>
<circle cx="345.49" cy="93.90" r="2.1" fill="#68a2d4"/>
<circle cx="353.06" cy="97.80" r="2.1" fill="#68a2d4"/>
<line x1="216.80" y1="90.70" x2="216.80" y2="99.10" stroke="#f0bb8c" stroke-width="0.8" />
<line x1="214.60" y1="90.70" x2="219.00" y2="90.70" stroke="#f0bb8c" stroke-width="0.8" />
<line x1="214.60" y1="99.10" x2="219.00" y2="99.10" stroke="#f0bb8c" stroke-width="0.8" />
<line x1="224.37" y1="96.40" x2="224.37" y2="98.40" stroke="#f0bb8c" stroke-width="0.8" />
<line x1="222.17" y1="96.40" x2="226.57" y2="96.40" stroke="#f0bb8c" stroke-width="0.8" />
<line x1="222.17" y1="98.40" x2="226.57" y2="98.40" stroke="#f0bb8c" stroke-width="0.8" />
<line x1="231.94" y1="90.50" x2="231.94" y2="92.10" stroke="#f0bb8c" stroke-width="0.8" />
<line x1="229.74" y1="90.50" x2="234.14" y2="90.50" stroke="#f0bb8c" stroke-width="0.8" />
<line x1="229.74" y1="92.10" x2="234.14" y2="92.10" stroke="#f0bb8c" stroke-width="0.8" />
<line x1="239.51" y1="94.70" x2="239.51" y2="96.30" stroke="#f0bb8c" stroke-width="0.8" />
<line x1="237.31" y1="94.70" x2="241.71" y2="94.70" stroke="#f0bb8c" stroke-width="0.8" />
<line x1="237.31" y1="96.30" x2="241.71" y2="96.30" stroke="#f0bb8c" stroke-width="0.8" />
<line x1="247.08" y1="97.50" x2="247.08" y2="99.10" stroke="#f0bb8c" stroke-width="0.8" />
<line x1="244.88" y1="97.50" x2="249.28" y2="97.50" stroke="#f0bb8c" stroke-width="0.8" />
<line x1="244.88" y1="99.10" x2="249.28" y2="99.10" stroke="#f0bb8c" stroke-width="0.8" />
<line x1="254.65" y1="92.70" x2="254.65" y2="94.30" stroke="#f0bb8c" stroke-width="0.8" />
<line x1="252.45" y1="92.70" x2="256.85" y2="92.70" stroke="#f0bb8c" stroke-width="0.8" />
<line x1="252.45" y1="94.30" x2="256.85" y2="94.30" stroke="#f0bb8c" stroke-width="0.8" />
<line x1="262.22" y1="92.30" x2="262.22" y2="93.90" stroke="#f0bb8c" stroke-width="0.8" />
<line x1="260.02" y1="92.30" x2="264.42" y2="92.30" stroke="#f0bb8c" stroke-width="0.8" />
<line x1="260.02" y1="93.90" x2="264.42" y2="93.90" stroke="#f0bb8c" stroke-width="0.8" />
<line x1="269.79" y1="90.80" x2="269.79" y2="92.40" stroke="#f0bb8c" stroke-width="0.8" />
<line x1="267.59" y1="90.80" x2="271.99" y2="90.80" stroke="#f0bb8c" stroke-width="0.8" />
<line x1="267.59" y1="92.40" x2="271.99" y2="92.40" stroke="#f0bb8c" stroke-width="0.8" />
<line x1="277.36" y1="89.60" x2="277.36" y2="91.20" stroke="#f0bb8c" stroke-width="0.8" />
<line x1="275.16" y1="89.60" x2="279.56" y2="89.60" stroke="#f0bb8c" stroke-width="0.8" />
<line x1="275.16" y1="91.20" x2="279.56" y2="91.20" stroke="#f0bb8c" stroke-width="0.8" />
<line x1="284.93" y1="89.70" x2="284.93" y2="91.30" stroke="#f0bb8c" stroke-width="0.8" />
<line x1="282.73" y1="89.70" x2="287.13" y2="89.70" stroke="#f0bb8c" stroke-width="0.8" />
<line x1="282.73" y1="91.30" x2="287.13" y2="91.30" stroke="#f0bb8c" stroke-width="0.8" />
<line x1="292.50" y1="90.80" x2="292.50" y2="92.40" stroke="#f0bb8c" stroke-width="0.8" />
<line x1="290.30" y1="90.80" x2="294.70" y2="90.80" stroke="#f0bb8c" stroke-width="0.8" />
<line x1="290.30" y1="92.40" x2="294.70" y2="92.40" stroke="#f0bb8c" stroke-width="0.8" />
<line x1="300.07" y1="91.50" x2="300.07" y2="93.10" stroke="#f0bb8c" stroke-width="0.8" />
<line x1="297.87" y1="91.50" x2="302.27" y2="91.50" stroke="#f0bb8c" stroke-width="0.8" />
<line x1="297.87" y1="93.10" x2="302.27" y2="93.10" stroke="#f0bb8c" stroke-width="0.8" />
<line x1="307.64" y1="93.20" x2="307.64" y2="94.80" stroke="#f0bb8c" stroke-width="0.8" />
<line x1="305.44" y1="93.20" x2="309.84" y2="93.20" stroke="#f0bb8c" stroke-width="0.8" />
<line x1="305.44" y1="94.80" x2="309.84" y2="94.80" stroke="#f0bb8c" stroke-width="0.8" />
<line x1="315.21" y1="87.40" x2="315.21" y2="92.60" stroke="#f0bb8c" stroke-width="0.8" />
<line x1="313.01" y1="87.40" x2="317.41" y2="87.40" stroke="#f0bb8c" stroke-width="0.8" />
<line x1="313.01" y1="92.60" x2="317.41" y2="92.60" stroke="#f0bb8c" stroke-width="0.8" />
<line x1="322.78" y1="93.60" x2="322.78" y2="95.60" stroke="#f0bb8c" stroke-width="0.8" />
<line x1="320.58" y1="93.60" x2="324.98" y2="93.60" stroke="#f0bb8c" stroke-width="0.8" />
<line x1="320.58" y1="95.60" x2="324.98" y2="95.60" stroke="#f0bb8c" stroke-width="0.8" />
<line x1="330.35" y1="85.70" x2="330.35" y2="90.50" stroke="#f0bb8c" stroke-width="0.8" />
<line x1="328.15" y1="85.70" x2="332.55" y2="85.70" stroke="#f0bb8c" stroke-width="0.8" />
<line x1="328.15" y1="90.50" x2="332.55" y2="90.50" stroke="#f0bb8c" stroke-width="0.8" />
<line x1="337.92" y1="88.80" x2="337.92" y2="90.40" stroke="#f0bb8c" stroke-width="0.8" />
<line x1="335.72" y1="88.80" x2="340.12" y2="88.80" stroke="#f0bb8c" stroke-width="0.8" />
<line x1="335.72" y1="90.40" x2="340.12" y2="90.40" stroke="#f0bb8c" stroke-width="0.8" />
<line x1="345.49" y1="86.70" x2="345.49" y2="89.50" stroke="#f0bb8c" stroke-width="0.8" />
<line x1="343.29" y1="86.70" x2="347.69" y2="86.70" stroke="#f0bb8c" stroke-width="0.8" />
<line x1="343.29" y1="89.50" x2="347.69" y2="89.50" stroke="#f0bb8c" stroke-width="0.8" />
<line x1="353.06" y1="89.00" x2="353.06" y2="91.40" stroke="#f0bb8c" stroke-width="0.8" />
<line x1="350.86" y1="89.00" x2="355.26" y2="89.00" stroke="#f0bb8c" stroke-width="0.8" />
<line x1="350.86" y1="91.40" x2="355.26" y2="91.40" stroke="#f0bb8c" stroke-width="0.8" />
<polyline points="216.80,94.90 224.37,97.40 231.94,91.30 239.51,95.50 247.08,98.30 254.65,93.50 262.22,93.10 269.79,91.60 277.36,90.40 284.93,90.50 292.50,91.60 300.07,92.30 307.64,94.00 315.21,90.00 322.78,94.60 330.35,88.10 337.92,89.60 345.49,88.10 353.06,90.20" fill="none" stroke="#eba265" stroke-width="1.35" stroke-linejoin="round"/>
<path d="M216.80 92.80 L218.50 94.90 L216.80 97.00 L215.10 94.90Z" fill="#eba265"/>
<path d="M224.37 95.30 L226.07 97.40 L224.37 99.50 L222.67 97.40Z" fill="#eba265"/>
<path d="M231.94 89.20 L233.64 91.30 L231.94 93.40 L230.24 91.30Z" fill="#eba265"/>
<path d="M239.51 93.40 L241.21 95.50 L239.51 97.60 L237.81 95.50Z" fill="#eba265"/>
<path d="M247.08 96.20 L248.78 98.30 L247.08 100.40 L245.38 98.30Z" fill="#eba265"/>
<path d="M254.65 91.40 L256.35 93.50 L254.65 95.60 L252.95 93.50Z" fill="#eba265"/>
<path d="M262.22 91.00 L263.92 93.10 L262.22 95.20 L260.52 93.10Z" fill="#eba265"/>
<path d="M269.79 89.50 L271.49 91.60 L269.79 93.70 L268.09 91.60Z" fill="#eba265"/>
<path d="M277.36 88.30 L279.06 90.40 L277.36 92.50 L275.66 90.40Z" fill="#eba265"/>
<path d="M284.93 88.40 L286.63 90.50 L284.93 92.60 L283.23 90.50Z" fill="#eba265"/>
<path d="M292.50 89.50 L294.20 91.60 L292.50 93.70 L290.80 91.60Z" fill="#eba265"/>
<path d="M300.07 90.20 L301.77 92.30 L300.07 94.40 L298.37 92.30Z" fill="#eba265"/>
<path d="M307.64 91.90 L309.34 94.00 L307.64 96.10 L305.94 94.00Z" fill="#eba265"/>
<path d="M315.21 87.90 L316.91 90.00 L315.21 92.10 L313.51 90.00Z" fill="#eba265"/>
<path d="M322.78 92.50 L324.48 94.60 L322.78 96.70 L321.08 94.60Z" fill="#eba265"/>
<path d="M330.35 86.00 L332.05 88.10 L330.35 90.20 L328.65 88.10Z" fill="#eba265"/>
<path d="M337.92 87.50 L339.62 89.60 L337.92 91.70 L336.22 89.60Z" fill="#eba265"/>
<path d="M345.49 86.00 L347.19 88.10 L345.49 90.20 L343.79 88.10Z" fill="#eba265"/>
<path d="M353.06 88.10 L354.76 90.20 L353.06 92.30 L351.36 90.20Z" fill="#eba265"/>
<text transform="translate(262.22,87.80) rotate(90)" y="4.24" font-size="8.2" text-anchor="middle" fill="#141414" stroke="#141414" stroke-width="0.2">*</text>
<text transform="translate(277.36,85.30) rotate(90)" y="4.24" font-size="8.2" text-anchor="middle" fill="#141414" stroke="#141414" stroke-width="0.2">*</text>
<text transform="translate(353.06,85.50) rotate(90)" y="4.24" font-size="8.2" text-anchor="middle" fill="#141414" stroke="#141414" stroke-width="0.2">*</text>
<line x1="308.90" y1="14.50" x2="322.90" y2="14.50" stroke="#68a2d4" stroke-width="1.1" />
<circle cx="315.40" cy="14.50" r="2.2" fill="#68a2d4"/>
<text transform="translate(327.70,17.68) scale(1,1.12)" font-size="8" font-weight="normal" text-anchor="start" fill="#2a2a2a" stroke="#2a2a2a" stroke-width="0.12" >WT-NCD</text>
<line x1="308.90" y1="29.50" x2="322.90" y2="29.50" stroke="#eba265" stroke-width="1.1" />
<path d="M315.40 27.50 L316.90 29.50 L315.40 31.50 L313.90 29.50Z" fill="#eba265"/>
<text transform="translate(327.70,32.23) scale(1,1.12)" font-size="8" font-weight="normal" text-anchor="start" fill="#2a2a2a" stroke="#2a2a2a" stroke-width="0.12" >CB2R<tspan font-size="6" dy="-3.3">-/-</tspan><tspan dy="3.3">-NCD</tspan></text>
<defs>
<filter id="he1" x="0" y="0" width="1" height="1" filterUnits="objectBoundingBox" color-interpolation-filters="sRGB"><feTurbulence type="fractalNoise" baseFrequency="0.6" numOctaves="3" seed="3" result="f"/><feColorMatrix in="f" type="matrix" values="0.35 0.2 0 0 0.4858 0.35 0.0 0 0 0.1858 0.3 -0.1 0 0 0.6059 0 0 0 0 1" result="fc"/><feTurbulence type="fractalNoise" baseFrequency="0.06" numOctaves="2" seed="53" result="p"/><feColorMatrix in="p" type="matrix" values="0.06 0 0 0 0.4700 0.06 0 0 0 0.4700 0.05 0 0 0 0.4750 0 0 0 0 1" result="pc"/><feComposite in="fc" in2="pc" operator="arithmetic" k1="0" k2="1" k3="1" k4="-0.5"/></filter>
<filter id="he2" x="0" y="0" width="1" height="1" filterUnits="objectBoundingBox" color-interpolation-filters="sRGB"><feTurbulence type="fractalNoise" baseFrequency="0.6" numOctaves="3" seed="5" result="f"/><feColorMatrix in="f" type="matrix" values="0.35 0.2 0 0 0.4074 0.35 0.0 0 0 0.1309 0.3 -0.1 0 0 0.5745 0 0 0 0 1" result="fc"/><feTurbulence type="fractalNoise" baseFrequency="0.06" numOctaves="2" seed="55" result="p"/><feColorMatrix in="p" type="matrix" values="0.06 0 0 0 0.4700 0.06 0 0 0 0.4700 0.05 0 0 0 0.4750 0 0 0 0 1" result="pc"/><feComposite in="fc" in2="pc" operator="arithmetic" k1="0" k2="1" k3="1" k4="-0.5"/></filter>
<filter id="or1" x="0" y="0" width="1" height="1" filterUnits="objectBoundingBox" color-interpolation-filters="sRGB"><feTurbulence type="fractalNoise" baseFrequency="0.42" numOctaves="3" seed="7" result="f"/><feColorMatrix in="f" type="matrix" values="0.85 0.25 0 0 0.1716 0.8 0.0 0 0 0.3059 0.4 -0.05 0 0 0.6681 0 0 0 0 1" result="fc"/><feTurbulence type="fractalNoise" baseFrequency="0.08" numOctaves="2" seed="57" result="p"/><feColorMatrix in="p" type="matrix" values="0.15 0.12 0 0 0.3650 0.0 0.12 0 0 0.4400 -0.05 0.08 0 0 0.4850 0 0 0 0 1" result="pc"/><feComposite in="fc" in2="pc" operator="arithmetic" k1="0" k2="1" k3="1" k4="-0.5"/></filter>
<filter id="or2" x="0" y="0" width="1" height="1" filterUnits="objectBoundingBox" color-interpolation-filters="sRGB"><feTurbulence type="fractalNoise" baseFrequency="0.42" numOctaves="3" seed="9" result="f"/><feColorMatrix in="f" type="matrix" values="0.7 0.25 0 0 0.1368 0.65 0.0 0 0 0.1691 0.45 0.0 0 0 0.4417 0 0 0 0 1" result="fc"/><feTurbulence type="fractalNoise" baseFrequency="0.08" numOctaves="2" seed="59" result="p"/><feColorMatrix in="p" type="matrix" values="0.15 0.12 0 0 0.3650 0.0 0.12 0 0 0.4400 -0.05 0.08 0 0 0.4850 0 0 0 0 1" result="pc"/><feComposite in="fc" in2="pc" operator="arithmetic" k1="0" k2="1" k3="1" k4="-0.5"/></filter>
<filter id="sb" x="-1" y="-1" width="3" height="3"><feGaussianBlur stdDeviation="0.6"/></filter>
</defs>
<defs>
<clipPath id="che1"><rect x="394.9" y="18.0" width="91.90" height="70.90"/></clipPath>
<clipPath id="che2"><rect x="488.3" y="18.0" width="91.50" height="70.90"/></clipPath>
<clipPath id="cor1"><rect x="394.9" y="90.7" width="91.90" height="71.30"/></clipPath>
<clipPath id="cor2"><rect x="488.3" y="90.7" width="91.50" height="71.30"/></clipPath>
</defs>
<g clip-path="url(#che1)"><rect x="393" y="17" width="95" height="73" fill="#c25cb4" filter="url(#he1)"/></g>
<g clip-path="url(#che2)"><rect x="487" y="17" width="94" height="73" fill="#b04ea8" filter="url(#he2)"/></g>
<g clip-path="url(#cor1)"><rect x="393" y="89" width="95" height="74" fill="#aeaad4" filter="url(#or1)"/></g>
<g clip-path="url(#cor2)"><rect x="487" y="89" width="94" height="74" fill="#9872a4" filter="url(#or2)"/></g>
<g filter="url(#sb)" stroke="#f4f2f8" stroke-opacity="1" stroke-linecap="round" fill="none">
<line x1="435.8" y1="98.6" x2="438.9" y2="109.4" stroke-width="1.9"/>
<line x1="430.9" y1="108.6" x2="432.6" y2="115.3" stroke-width="1.7"/>
<line x1="470.5" y1="106.5" x2="468.7" y2="115.3" stroke-width="1.9"/>
<line x1="442.2" y1="134.2" x2="444.0" y2="140.8" stroke-width="1.7"/>
<line x1="442.5" y1="118" x2="444.5" y2="121" stroke-width="1.2"/>
<line x1="416" y1="108" x2="418" y2="110" stroke-width="1.2"/>
<line x1="540.4" y1="128.2" x2="540.6" y2="137.6" stroke-width="1.5"/>
<line x1="547.9" y1="145.2" x2="560.5" y2="135.5" stroke-width="1.5"/>
<line x1="520" y1="103" x2="524" y2="106" stroke-width="1.0"/>
</g>
<g filter="url(#sb)" fill="#f6eef6">
<ellipse cx="552.3" cy="58.2" rx="1.6" ry="2.0"/>
<ellipse cx="529.2" cy="44.8" rx="1.2" ry="1.0" fill-opacity="0.6"/>
<ellipse cx="495.3" cy="68.0" rx="1.3" ry="1.0" fill-opacity="0.7"/>
<path d="M565.5 17.7 L570.5 17.7 L568 21Z"/>
</g>
<text x="483.10" y="81.90" font-size="6.5" font-weight="normal" text-anchor="end" fill="#111" stroke="#111" stroke-width="0.15" >50μm</text>
<line x1="472.20" y1="85.10" x2="477.50" y2="85.10" stroke="#000" stroke-width="1.1" />
<text x="576.10" y="81.90" font-size="6.5" font-weight="normal" text-anchor="end" fill="#111" stroke="#111" stroke-width="0.15" >50μm</text>
<line x1="565.20" y1="85.10" x2="570.50" y2="85.10" stroke="#000" stroke-width="1.1" />
<text x="483.10" y="155.00" font-size="6.5" font-weight="normal" text-anchor="end" fill="#111" stroke="#111" stroke-width="0.15" >50μm</text>
<line x1="472.20" y1="158.20" x2="477.50" y2="158.20" stroke="#000" stroke-width="1.1" />
<text x="576.10" y="155.00" font-size="6.5" font-weight="normal" text-anchor="end" fill="#111" stroke="#111" stroke-width="0.15" >50μm</text>
<line x1="565.20" y1="158.20" x2="570.50" y2="158.20" stroke="#000" stroke-width="1.1" />
<text x="439.60" y="12.80" font-size="10" font-weight="normal" text-anchor="middle" fill="#141414" stroke="#141414" stroke-width="0.1" >WT</text>
<text x="520.60" y="12.80" font-size="10" font-weight="normal" text-anchor="start" fill="#141414" stroke="#141414" stroke-width="0.1" >CB2R<tspan font-size="5.5" dy="-2.9">-/-</tspan></text>
<text transform="translate(389.70,53.40) rotate(-90)" font-size="10" font-weight="normal" text-anchor="middle" fill="#141414" stroke="#141414" stroke-width="0.1">H&amp;E</text>
<text transform="translate(389.70,128.90) rotate(-90)" font-size="10" font-weight="normal" text-anchor="middle" fill="#141414" stroke="#141414" stroke-width="0.1">Oil Red</text>
<line x1="611.40" y1="29.40" x2="611.40" y2="137.00" stroke="#1e1e1e" stroke-width="1.3" />
<line x1="607.40" y1="137.00" x2="611.40" y2="137.00" stroke="#1e1e1e" stroke-width="1.2" />
<text x="606.20" y="139.45" font-size="7.7" font-weight="bold" text-anchor="end" fill="#141414" stroke="#141414" stroke-width="0.28" >0</text>
<line x1="607.40" y1="110.25" x2="611.40" y2="110.25" stroke="#1e1e1e" stroke-width="1.2" />
<text x="606.20" y="112.70" font-size="7.7" font-weight="bold" text-anchor="end" fill="#141414" stroke="#141414" stroke-width="0.28" >10</text>
<line x1="607.40" y1="83.50" x2="611.40" y2="83.50" stroke="#1e1e1e" stroke-width="1.2" />
<text x="606.20" y="85.95" font-size="7.7" font-weight="bold" text-anchor="end" fill="#141414" stroke="#141414" stroke-width="0.28" >20</text>
<line x1="607.40" y1="56.75" x2="611.40" y2="56.75" stroke="#1e1e1e" stroke-width="1.2" />
<text x="606.20" y="59.20" font-size="7.7" font-weight="bold" text-anchor="end" fill="#141414" stroke="#141414" stroke-width="0.28" >30</text>
<line x1="607.40" y1="30.00" x2="611.40" y2="30.00" stroke="#1e1e1e" stroke-width="1.2" />
<text x="606.20" y="32.45" font-size="7.7" font-weight="bold" text-anchor="end" fill="#141414" stroke="#141414" stroke-width="0.28" >40</text>
<line x1="608.10" y1="137.00" x2="682.50" y2="137.00" stroke="#1e1e1e" stroke-width="1.3" />
<line x1="632.05" y1="131.40" x2="632.05" y2="133.00" stroke="#1e1e1e" stroke-width="1.2" />
<line x1="626.85" y1="131.40" x2="637.25" y2="131.40" stroke="#1e1e1e" stroke-width="1.2" />
<rect x="622.75" y="133.55" width="18.60" height="3.45" fill="#659fcc" stroke="#151515" stroke-width="1.1"/>
<line x1="662.85" y1="51.70" x2="662.85" y2="55.30" stroke="#1e1e1e" stroke-width="1.2" />
<line x1="657.65" y1="51.70" x2="668.05" y2="51.70" stroke="#1e1e1e" stroke-width="1.2" />
<rect x="653.85" y="55.85" width="18.00" height="81.15" fill="#e8a06a" stroke="#151515" stroke-width="1.1"/>
<line x1="632.50" y1="137.00" x2="632.50" y2="140.30" stroke="#1e1e1e" stroke-width="1.15" />
<line x1="662.50" y1="137.00" x2="662.50" y2="140.30" stroke="#1e1e1e" stroke-width="1.15" />
<line x1="633.20" y1="44.50" x2="664.70" y2="44.50" stroke="#1e1e1e" stroke-width="1.4" />
<text transform="translate(637.43,35.50) rotate(0)" y="7.35" font-size="14.2" text-anchor="middle" fill="#141414" stroke="#141414" stroke-width="0.5">*</text>
<text transform="translate(644.88,35.50) rotate(0)" y="7.35" font-size="14.2" text-anchor="middle" fill="#141414" stroke="#141414" stroke-width="0.5">*</text>
<text transform="translate(652.33,35.50) rotate(0)" y="7.35" font-size="14.2" text-anchor="middle" fill="#141414" stroke="#141414" stroke-width="0.5">*</text>
<text transform="translate(659.77,35.50) rotate(0)" y="7.35" font-size="14.2" text-anchor="middle" fill="#141414" stroke="#141414" stroke-width="0.5">*</text>
<text transform="translate(588.40,83.85) rotate(-90)" font-size="8.0" font-weight="bold" text-anchor="middle" fill="#141414" stroke="#141414" stroke-width="0.28">Oil Red&#160; Relative Quantification</text>
<text transform="translate(633.40,148.90) rotate(-45)" font-size="8.0" font-weight="bold" text-anchor="end" fill="#141414" stroke="#141414" stroke-width="0.28">WT-NCD</text>
<text transform="translate(664.00,148.90) rotate(-45)" font-size="8.0" font-weight="bold" text-anchor="end" fill="#141414" stroke="#141414" stroke-width="0.28">CB2R<tspan font-size="5.5" dy="-2.8">-/-</tspan><tspan dy="2.8">-NCD</tspan></text>
<line x1="33.30" y1="205.80" x2="33.30" y2="313.30" stroke="#1e1e1e" stroke-width="1.3" />
<line x1="29.60" y1="313.30" x2="33.30" y2="313.30" stroke="#1e1e1e" stroke-width="1.2" />
<text x="28.40" y="315.75" font-size="7.7" font-weight="bold" text-anchor="end" fill="#141414" stroke="#141414" stroke-width="0.28" >0</text>
<line x1="29.60" y1="291.92" x2="33.30" y2="291.92" stroke="#1e1e1e" stroke-width="1.2" />
<text x="28.40" y="294.37" font-size="7.7" font-weight="bold" text-anchor="end" fill="#141414" stroke="#141414" stroke-width="0.28" >5</text>
<line x1="29.60" y1="270.54" x2="33.30" y2="270.54" stroke="#1e1e1e" stroke-width="1.2" />
<text x="28.40" y="272.99" font-size="7.7" font-weight="bold" text-anchor="end" fill="#141414" stroke="#141414" stroke-width="0.28" >10</text>
<line x1="29.60" y1="249.16" x2="33.30" y2="249.16" stroke="#1e1e1e" stroke-width="1.2" />
<text x="28.40" y="251.61" font-size="7.7" font-weight="bold" text-anchor="end" fill="#141414" stroke="#141414" stroke-width="0.28" >15</text>
<line x1="29.60" y1="227.78" x2="33.30" y2="227.78" stroke="#1e1e1e" stroke-width="1.2" />
<text x="28.40" y="230.23" font-size="7.7" font-weight="bold" text-anchor="end" fill="#141414" stroke="#141414" stroke-width="0.28" >20</text>
<line x1="29.60" y1="206.40" x2="33.30" y2="206.40" stroke="#1e1e1e" stroke-width="1.2" />
<text x="28.40" y="208.85" font-size="7.7" font-weight="bold" text-anchor="end" fill="#141414" stroke="#141414" stroke-width="0.28" >25</text>
<line x1="30.00" y1="313.30" x2="105.30" y2="313.30" stroke="#1e1e1e" stroke-width="1.3" />
<line x1="54.00" y1="246.60" x2="54.00" y2="249.90" stroke="#1e1e1e" stroke-width="1.2" />
<line x1="48.80" y1="246.60" x2="59.20" y2="246.60" stroke="#1e1e1e" stroke-width="1.2" />
<rect x="44.75" y="250.45" width="18.50" height="62.85" fill="#659fcc" stroke="#151515" stroke-width="1.1"/>
<line x1="84.25" y1="219.00" x2="84.25" y2="227.80" stroke="#1e1e1e" stroke-width="1.2" />
<line x1="79.05" y1="219.00" x2="89.45" y2="219.00" stroke="#1e1e1e" stroke-width="1.2" />
<rect x="74.85" y="228.35" width="18.80" height="84.95" fill="#e8a06a" stroke="#151515" stroke-width="1.1"/>
<line x1="53.50" y1="313.30" x2="53.50" y2="316.60" stroke="#1e1e1e" stroke-width="1.15" />
<line x1="84.50" y1="313.30" x2="84.50" y2="316.60" stroke="#1e1e1e" stroke-width="1.15" />
<line x1="55.00" y1="211.50" x2="85.70" y2="211.50" stroke="#1e1e1e" stroke-width="1.4" />
<text transform="translate(69.00,203.30) rotate(0)" y="8.54" font-size="16.5" text-anchor="middle" fill="#141414" stroke="#141414" stroke-width="0.35">*</text>
<text transform="translate(11.30,262.90) rotate(-90)" font-size="7.8" font-weight="bold" text-anchor="middle" fill="#141414" stroke="#141414" stroke-width="0.28">ALT&#160;&#160; <tspan font-weight="normal" stroke-width="0.1">(</tspan>U/L<tspan font-weight="normal" stroke-width="0.1">)</tspan></text>
<text transform="translate(55.20,324.30) rotate(-45)" font-size="8.0" font-weight="bold" text-anchor="end" fill="#141414" stroke="#141414" stroke-width="0.28">WT-NCD</text>
<text transform="translate(85.60,324.30) rotate(-45)" font-size="8.0" font-weight="bold" text-anchor="end" fill="#141414" stroke="#141414" stroke-width="0.28">CB2R<tspan font-size="5.5" dy="-2.8">-/-</tspan><tspan dy="2.8">-NCD</tspan></text>
<line x1="149.80" y1="205.60" x2="149.80" y2="313.30" stroke="#1e1e1e" stroke-width="1.3" />
<line x1="146.50" y1="313.30" x2="149.80" y2="313.30" stroke="#1e1e1e" stroke-width="1.2" />
<text x="145.30" y="315.75" font-size="7.7" font-weight="bold" text-anchor="end" fill="#141414" stroke="#141414" stroke-width="0.28" >0</text>
<line x1="146.50" y1="291.88" x2="149.80" y2="291.88" stroke="#1e1e1e" stroke-width="1.2" />
<text x="145.30" y="294.33" font-size="7.7" font-weight="bold" text-anchor="end" fill="#141414" stroke="#141414" stroke-width="0.28" >10</text>
<line x1="146.50" y1="270.46" x2="149.80" y2="270.46" stroke="#1e1e1e" stroke-width="1.2" />
<text x="145.30" y="272.91" font-size="7.7" font-weight="bold" text-anchor="end" fill="#141414" stroke="#141414" stroke-width="0.28" >20</text>
<line x1="146.50" y1="249.04" x2="149.80" y2="249.04" stroke="#1e1e1e" stroke-width="1.2" />
<text x="145.30" y="251.49" font-size="7.7" font-weight="bold" text-anchor="end" fill="#141414" stroke="#141414" stroke-width="0.28" >30</text>
<line x1="146.50" y1="227.62" x2="149.80" y2="227.62" stroke="#1e1e1e" stroke-width="1.2" />
<text x="145.30" y="230.07" font-size="7.7" font-weight="bold" text-anchor="end" fill="#141414" stroke="#141414" stroke-width="0.28" >40</text>
<line x1="146.50" y1="206.20" x2="149.80" y2="206.20" stroke="#1e1e1e" stroke-width="1.2" />
<text x="145.30" y="208.65" font-size="7.7" font-weight="bold" text-anchor="end" fill="#141414" stroke="#141414" stroke-width="0.28" >50</text>
<line x1="146.50" y1="313.30" x2="221.30" y2="313.30" stroke="#1e1e1e" stroke-width="1.3" />
<line x1="170.40" y1="225.20" x2="170.40" y2="231.90" stroke="#1e1e1e" stroke-width="1.2" />
<line x1="165.20" y1="225.20" x2="175.60" y2="225.20" stroke="#1e1e1e" stroke-width="1.2" />
<rect x="160.85" y="232.45" width="19.10" height="80.85" fill="#659fcc" stroke="#151515" stroke-width="1.1"/>
<line x1="200.70" y1="226.80" x2="200.70" y2="235.30" stroke="#1e1e1e" stroke-width="1.2" />
<line x1="195.50" y1="226.80" x2="205.90" y2="226.80" stroke="#1e1e1e" stroke-width="1.2" />
<rect x="191.15" y="235.85" width="19.10" height="77.45" fill="#e8a06a" stroke="#151515" stroke-width="1.1"/>
<line x1="170.50" y1="313.30" x2="170.50" y2="316.60" stroke="#1e1e1e" stroke-width="1.15" />
<line x1="200.50" y1="313.30" x2="200.50" y2="316.60" stroke="#1e1e1e" stroke-width="1.15" />
<line x1="172.20" y1="218.80" x2="202.80" y2="218.80" stroke="#1e1e1e" stroke-width="1.4" />
<text x="188.70" y="213.50" font-size="10" font-weight="normal" text-anchor="middle" fill="#141414" stroke="#141414" stroke-width="0.12" >ns</text>
<text transform="translate(127.60,261.40) rotate(-90)" font-size="7.8" font-weight="bold" text-anchor="middle" fill="#141414" stroke="#141414" stroke-width="0.28">AST&#160;&#160; <tspan font-weight="normal" stroke-width="0.1">(</tspan>U/L<tspan font-weight="normal" stroke-width="0.1">)</tspan></text>
<text transform="translate(171.50,324.30) rotate(-45)" font-size="8.0" font-weight="bold" text-anchor="end" fill="#141414" stroke="#141414" stroke-width="0.28">WT-NCD</text>
<text transform="translate(201.80,324.30) rotate(-45)" font-size="8.0" font-weight="bold" text-anchor="end" fill="#141414" stroke="#141414" stroke-width="0.28">CB2R<tspan font-size="5.5" dy="-2.8">-/-</tspan><tspan dy="2.8">-NCD</tspan></text>
<line x1="264.60" y1="205.20" x2="264.60" y2="313.30" stroke="#1e1e1e" stroke-width="1.3" />
<line x1="260.10" y1="313.30" x2="264.60" y2="313.30" stroke="#1e1e1e" stroke-width="1.2" />
<text x="258.90" y="315.75" font-size="7.7" font-weight="bold" text-anchor="end" fill="#141414" stroke="#141414" stroke-width="0.28" >0.0</text>
<line x1="260.10" y1="286.43" x2="264.60" y2="286.43" stroke="#1e1e1e" stroke-width="1.2" />
<text x="258.90" y="288.88" font-size="7.7" font-weight="bold" text-anchor="end" fill="#141414" stroke="#141414" stroke-width="0.28" >0.2</text>
<line x1="260.10" y1="259.55" x2="264.60" y2="259.55" stroke="#1e1e1e" stroke-width="1.2" />
<text x="258.90" y="262.00" font-size="7.7" font-weight="bold" text-anchor="end" fill="#141414" stroke="#141414" stroke-width="0.28" >0.4</text>
<line x1="260.10" y1="232.68" x2="264.60" y2="232.68" stroke="#1e1e1e" stroke-width="1.2" />
<text x="258.90" y="235.12" font-size="7.7" font-weight="bold" text-anchor="end" fill="#141414" stroke="#141414" stroke-width="0.28" >0.6</text>
<line x1="260.10" y1="205.80" x2="264.60" y2="205.80" stroke="#1e1e1e" stroke-width="1.2" />
<text x="258.90" y="208.25" font-size="7.7" font-weight="bold" text-anchor="end" fill="#141414" stroke="#141414" stroke-width="0.28" >0.8</text>
<line x1="261.30" y1="313.30" x2="335.80" y2="313.30" stroke="#1e1e1e" stroke-width="1.3" />
<line x1="284.85" y1="236.40" x2="284.85" y2="243.10" stroke="#1e1e1e" stroke-width="1.2" />
<line x1="279.65" y1="236.40" x2="290.05" y2="236.40" stroke="#1e1e1e" stroke-width="1.2" />
<rect x="275.65" y="243.65" width="18.40" height="69.65" fill="#659fcc" stroke="#151515" stroke-width="1.1"/>
<line x1="315.60" y1="239.70" x2="315.60" y2="243.10" stroke="#1e1e1e" stroke-width="1.2" />
<line x1="310.40" y1="239.70" x2="320.80" y2="239.70" stroke="#1e1e1e" stroke-width="1.2" />
<rect x="306.15" y="243.65" width="18.90" height="69.65" fill="#e8a06a" stroke="#151515" stroke-width="1.1"/>
<line x1="284.50" y1="313.30" x2="284.50" y2="316.60" stroke="#1e1e1e" stroke-width="1.15" />
<line x1="315.50" y1="313.30" x2="315.50" y2="316.60" stroke="#1e1e1e" stroke-width="1.15" />
<line x1="285.40" y1="230.00" x2="317.20" y2="230.00" stroke="#1e1e1e" stroke-width="1.4" />
<text x="301.50" y="224.60" font-size="10" font-weight="normal" text-anchor="middle" fill="#141414" stroke="#141414" stroke-width="0.12" >ns</text>
<text transform="translate(237.00,260.40) rotate(-90)" font-size="7.6" font-weight="bold" text-anchor="middle" fill="#141414" stroke="#141414" stroke-width="0.28">TG&#160; <tspan font-weight="normal" stroke-width="0.1">(</tspan>mmol/L<tspan font-weight="normal" stroke-width="0.1">)</tspan></text>
<text transform="translate(286.40,324.30) rotate(-45)" font-size="8.0" font-weight="bold" text-anchor="end" fill="#141414" stroke="#141414" stroke-width="0.28">WT-NCD</text>
<text transform="translate(316.80,324.30) rotate(-45)" font-size="8.0" font-weight="bold" text-anchor="end" fill="#141414" stroke="#141414" stroke-width="0.28">CB2R<tspan font-size="5.5" dy="-2.8">-/-</tspan><tspan dy="2.8">-NCD</tspan></text>
<line x1="371.30" y1="204.90" x2="371.30" y2="313.30" stroke="#1e1e1e" stroke-width="1.3" />
<line x1="368.00" y1="313.30" x2="371.30" y2="313.30" stroke="#1e1e1e" stroke-width="1.2" />
<text x="366.80" y="315.75" font-size="7.7" font-weight="bold" text-anchor="end" fill="#141414" stroke="#141414" stroke-width="0.28" >0</text>
<line x1="368.00" y1="277.37" x2="371.30" y2="277.37" stroke="#1e1e1e" stroke-width="1.2" />
<text x="366.80" y="279.82" font-size="7.7" font-weight="bold" text-anchor="end" fill="#141414" stroke="#141414" stroke-width="0.28" >1</text>
<line x1="368.00" y1="241.43" x2="371.30" y2="241.43" stroke="#1e1e1e" stroke-width="1.2" />
<text x="366.80" y="243.88" font-size="7.7" font-weight="bold" text-anchor="end" fill="#141414" stroke="#141414" stroke-width="0.28" >2</text>
<line x1="368.00" y1="205.50" x2="371.30" y2="205.50" stroke="#1e1e1e" stroke-width="1.2" />
<text x="366.80" y="207.95" font-size="7.7" font-weight="bold" text-anchor="end" fill="#141414" stroke="#141414" stroke-width="0.28" >3</text>
<line x1="368.00" y1="313.30" x2="442.80" y2="313.30" stroke="#1e1e1e" stroke-width="1.3" />
<line x1="391.95" y1="265.50" x2="391.95" y2="269.50" stroke="#1e1e1e" stroke-width="1.2" />
<line x1="386.75" y1="265.50" x2="397.15" y2="265.50" stroke="#1e1e1e" stroke-width="1.2" />
<rect x="382.55" y="270.05" width="18.80" height="43.25" fill="#659fcc" stroke="#151515" stroke-width="1.1"/>
<line x1="422.40" y1="226.80" x2="422.40" y2="238.00" stroke="#1e1e1e" stroke-width="1.2" />
<line x1="417.20" y1="226.80" x2="427.60" y2="226.80" stroke="#1e1e1e" stroke-width="1.2" />
<rect x="412.75" y="238.55" width="19.30" height="74.75" fill="#e8a06a" stroke="#151515" stroke-width="1.1"/>
<line x1="391.50" y1="313.30" x2="391.50" y2="316.60" stroke="#1e1e1e" stroke-width="1.15" />
<line x1="422.50" y1="313.30" x2="422.50" y2="316.60" stroke="#1e1e1e" stroke-width="1.15" />
<line x1="393.00" y1="222.20" x2="424.30" y2="222.20" stroke="#1e1e1e" stroke-width="1.4" />
<text transform="translate(408.00,213.90) rotate(0)" y="8.54" font-size="16.5" text-anchor="middle" fill="#141414" stroke="#141414" stroke-width="0.35">*</text>
<text transform="translate(353.00,260.40) rotate(-90)" font-size="7.6" font-weight="bold" text-anchor="middle" fill="#141414" stroke="#141414" stroke-width="0.28">TC&#160; <tspan font-weight="normal" stroke-width="0.1">(</tspan>mmol/L<tspan font-weight="normal" stroke-width="0.1">)</tspan></text>
<text transform="translate(393.00,324.30) rotate(-45)" font-size="8.0" font-weight="bold" text-anchor="end" fill="#141414" stroke="#141414" stroke-width="0.28">WT-NCD</text>
<text transform="translate(423.90,324.30) rotate(-45)" font-size="8.0" font-weight="bold" text-anchor="end" fill="#141414" stroke="#141414" stroke-width="0.28">CB2R<tspan font-size="5.5" dy="-2.8">-/-</tspan><tspan dy="2.8">-NCD</tspan></text>
<line x1="481.70" y1="205.60" x2="481.70" y2="313.30" stroke="#1e1e1e" stroke-width="1.3" />
<line x1="478.40" y1="313.30" x2="481.70" y2="313.30" stroke="#1e1e1e" stroke-width="1.2" />
<text x="477.20" y="315.75" font-size="7.7" font-weight="bold" text-anchor="end" fill="#141414" stroke="#141414" stroke-width="0.28" >0</text>
<line x1="478.40" y1="286.52" x2="481.70" y2="286.52" stroke="#1e1e1e" stroke-width="1.2" />
<text x="477.20" y="288.97" font-size="7.7" font-weight="bold" text-anchor="end" fill="#141414" stroke="#141414" stroke-width="0.28" >2</text>
<line x1="478.40" y1="259.75" x2="481.70" y2="259.75" stroke="#1e1e1e" stroke-width="1.2" />
<text x="477.20" y="262.20" font-size="7.7" font-weight="bold" text-anchor="end" fill="#141414" stroke="#141414" stroke-width="0.28" >4</text>
<line x1="478.40" y1="232.97" x2="481.70" y2="232.97" stroke="#1e1e1e" stroke-width="1.2" />
<text x="477.20" y="235.42" font-size="7.7" font-weight="bold" text-anchor="end" fill="#141414" stroke="#141414" stroke-width="0.28" >6</text>
<line x1="478.40" y1="206.20" x2="481.70" y2="206.20" stroke="#1e1e1e" stroke-width="1.2" />
<text x="477.20" y="208.65" font-size="7.7" font-weight="bold" text-anchor="end" fill="#141414" stroke="#141414" stroke-width="0.28" >8</text>
<line x1="478.40" y1="313.30" x2="553.50" y2="313.30" stroke="#1e1e1e" stroke-width="1.3" />
<line x1="502.65" y1="241.50" x2="502.65" y2="247.60" stroke="#1e1e1e" stroke-width="1.2" />
<line x1="497.45" y1="241.50" x2="507.85" y2="241.50" stroke="#1e1e1e" stroke-width="1.2" />
<rect x="493.15" y="248.15" width="19.00" height="65.15" fill="#659fcc" stroke="#151515" stroke-width="1.1"/>
<line x1="532.95" y1="218.50" x2="532.95" y2="225.60" stroke="#1e1e1e" stroke-width="1.2" />
<line x1="527.75" y1="218.50" x2="538.15" y2="218.50" stroke="#1e1e1e" stroke-width="1.2" />
<rect x="523.65" y="226.15" width="18.60" height="87.15" fill="#e8a06a" stroke="#151515" stroke-width="1.1"/>
<line x1="502.50" y1="313.30" x2="502.50" y2="316.60" stroke="#1e1e1e" stroke-width="1.15" />
<line x1="532.50" y1="313.30" x2="532.50" y2="316.60" stroke="#1e1e1e" stroke-width="1.15" />
<line x1="503.60" y1="211.30" x2="534.50" y2="211.30" stroke="#1e1e1e" stroke-width="1.4" />
<text transform="translate(518.60,204.30) rotate(0)" y="8.54" font-size="16.5" text-anchor="middle" fill="#141414" stroke="#141414" stroke-width="0.35">*</text>
<text transform="translate(460.20,259.80) rotate(-90)" font-size="7.8" font-weight="bold" text-anchor="middle" fill="#141414" stroke="#141414" stroke-width="0.28">Blood Glucose <tspan font-weight="normal" stroke-width="0.1">(</tspan>mmol/L<tspan font-weight="normal" stroke-width="0.1">)</tspan></text>
<text transform="translate(503.70,324.30) rotate(-45)" font-size="8.0" font-weight="bold" text-anchor="end" fill="#141414" stroke="#141414" stroke-width="0.28">WT-NCD</text>
<text transform="translate(534.40,324.30) rotate(-45)" font-size="8.0" font-weight="bold" text-anchor="end" fill="#141414" stroke="#141414" stroke-width="0.28">CB2R<tspan font-size="5.5" dy="-2.8">-/-</tspan><tspan dy="2.8">-NCD</tspan></text>
<line x1="612.30" y1="206.70" x2="612.30" y2="313.30" stroke="#1e1e1e" stroke-width="1.3" />
<line x1="609.00" y1="313.30" x2="612.30" y2="313.30" stroke="#1e1e1e" stroke-width="1.2" />
<text x="607.80" y="315.75" font-size="7.7" font-weight="bold" text-anchor="end" fill="#141414" stroke="#141414" stroke-width="0.28" >0</text>
<line x1="609.00" y1="277.97" x2="612.30" y2="277.97" stroke="#1e1e1e" stroke-width="1.2" />
<text x="607.80" y="280.42" font-size="7.7" font-weight="bold" text-anchor="end" fill="#141414" stroke="#141414" stroke-width="0.28" >5</text>
<line x1="609.00" y1="242.63" x2="612.30" y2="242.63" stroke="#1e1e1e" stroke-width="1.2" />
<text x="607.80" y="245.08" font-size="7.7" font-weight="bold" text-anchor="end" fill="#141414" stroke="#141414" stroke-width="0.28" >10</text>
<line x1="609.00" y1="207.30" x2="612.30" y2="207.30" stroke="#1e1e1e" stroke-width="1.2" />
<text x="607.80" y="209.75" font-size="7.7" font-weight="bold" text-anchor="end" fill="#141414" stroke="#141414" stroke-width="0.28" >15</text>
<line x1="609.00" y1="313.30" x2="683.90" y2="313.30" stroke="#1e1e1e" stroke-width="1.3" />
<line x1="633.10" y1="262.10" x2="633.10" y2="266.10" stroke="#1e1e1e" stroke-width="1.2" />
<line x1="627.90" y1="262.10" x2="638.30" y2="262.10" stroke="#1e1e1e" stroke-width="1.2" />
<rect x="623.55" y="266.65" width="19.10" height="46.65" fill="#659fcc" stroke="#151515" stroke-width="1.1"/>
<line x1="663.85" y1="233.70" x2="663.85" y2="242.00" stroke="#1e1e1e" stroke-width="1.2" />
<line x1="658.65" y1="233.70" x2="669.05" y2="233.70" stroke="#1e1e1e" stroke-width="1.2" />
<rect x="654.45" y="242.55" width="18.80" height="70.75" fill="#e8a06a" stroke="#151515" stroke-width="1.1"/>
<line x1="633.50" y1="313.30" x2="633.50" y2="316.60" stroke="#1e1e1e" stroke-width="1.15" />
<line x1="663.50" y1="313.30" x2="663.50" y2="316.60" stroke="#1e1e1e" stroke-width="1.15" />
<line x1="631.50" y1="226.80" x2="662.60" y2="226.80" stroke="#1e1e1e" stroke-width="1.4" />
<text transform="translate(647.60,219.10) rotate(0)" y="8.54" font-size="16.5" text-anchor="middle" fill="#141414" stroke="#141414" stroke-width="0.35">*</text>
<text transform="translate(588.60,260.40) rotate(-90)" font-size="7.75" font-weight="bold" text-anchor="middle" fill="#141414" stroke="#141414" stroke-width="0.28">TG of Liver Tissue&#160; <tspan font-weight="normal" stroke-width="0.1">(</tspan>mmol/mg<tspan font-weight="normal" stroke-width="0.1">)</tspan></text>
<text transform="translate(634.50,324.30) rotate(-45)" font-size="8.0" font-weight="bold" text-anchor="end" fill="#141414" stroke="#141414" stroke-width="0.28">WT-NCD</text>
<text transform="translate(665.30,324.30) rotate(-45)" font-size="8.0" font-weight="bold" text-anchor="end" fill="#141414" stroke="#141414" stroke-width="0.28">CB2R<tspan font-size="5.5" dy="-2.8">-/-</tspan><tspan dy="2.8">-NCD</tspan></text>
</svg>
</body></html>
